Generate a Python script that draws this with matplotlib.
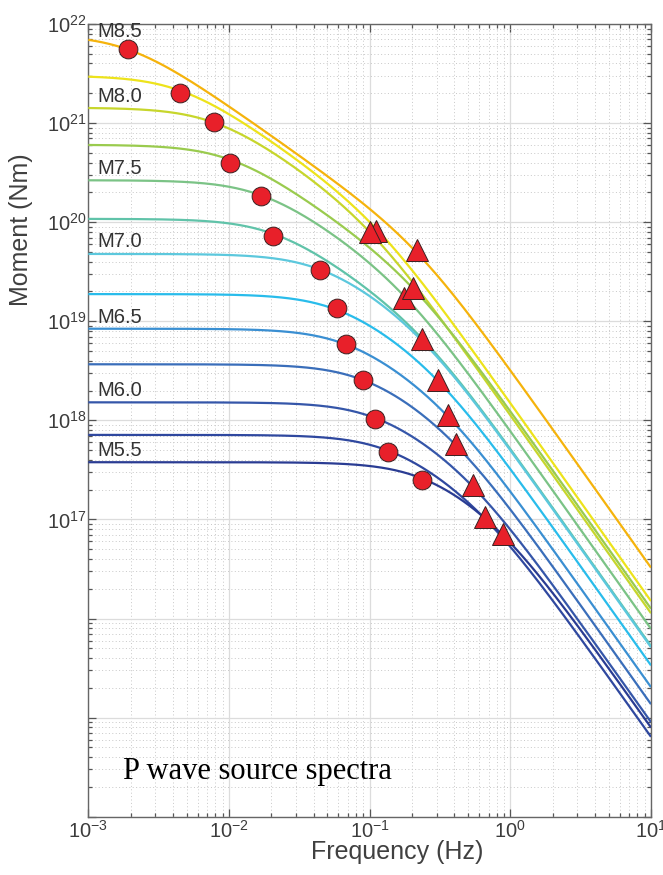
import numpy as np
import matplotlib
matplotlib.use("Agg")
import matplotlib.pyplot as plt
from matplotlib.ticker import LogLocator, FuncFormatter, NullFormatter

# ---------------- data ----------------
mag_labels = ["M8.5", "M8.0", "M7.5", "M7.0", "M6.5", "M6.0", "M5.5"]
label_moment = [7.45e21, 1.64e21, 3.06e20, 5.66e19, 9.7e18, 1.77e18, 4.4e17]

# low-frequency plateau of each spectrum (Nm), first and second corner frequency (Hz)
plateau_moment = [7.80e21, 3.01e21, 1.43e21, 6.04e20, 2.65e20, 1.08e20, 4.78e19,
                  1.88e19, 8.41e18, 3.68e18, 1.52e18, 7.13e17, 3.78e17]
corner_f1 = [0.00192, 0.00449, 0.00787, 0.0102, 0.0169, 0.0207, 0.0444,
             0.0582, 0.0675, 0.0902, 0.110, 0.1355, 0.237]
corner_f2 = [0.218, 0.111, 0.1005, 0.204, 0.176, 0.236, 0.242,
             0.308, 0.358, 0.412, 0.540, 0.664, 0.891]

# red circles
circle_f = [0.00192, 0.00449, 0.00787, 0.0102, 0.01686, 0.0207, 0.0444,
            0.0582, 0.0675, 0.0902, 0.110, 0.1355, 0.2366]
circle_m = [5.56e21, 2.0e21, 1.03e21, 3.93e20, 1.84e20, 7.21e19, 3.30e19,
            1.35e19, 5.90e18, 2.54e18, 1.04e18, 4.83e17, 2.51e17]

# red triangles
tri_f = [0.111, 0.1005, 0.218, 0.176, 0.204, 0.236, 0.308, 0.358, 0.412, 0.540, 0.664, 0.891]
tri_m = [8.15e19, 7.96e19, 5.24e19, 1.71e19, 2.15e19, 6.58e18, 2.53e18, 1.14e18,
         5.75e17, 2.24e17, 1.05e17, 7.14e16]

curve_colors = ["#F5B30C", "#EDE31B", "#C7D62C", "#9ACB4E", "#7BC386", "#60C3A9",
                "#5CC8DD", "#29BCEB", "#3A8FD2", "#3A6EBA", "#3556A9", "#2F489F", "#2A3C93"]

x_ticks = [1e-3, 1e-2, 1e-1, 1e0, 1e1]
y_ticks = [1e14, 1e15, 1e16, 1e17, 1e18, 1e19, 1e20, 1e21, 1e22]
y_labeled_min = 1e17

# ---------------- figure ----------------
plt.rcParams["font.family"] = ["Liberation Sans", "DejaVu Sans"]
plt.rcParams["mathtext.fontset"] = "custom"
plt.rcParams["mathtext.rm"] = "Liberation Sans"
plt.rcParams["mathtext.it"] = "Liberation Sans:italic"
plt.rcParams["mathtext.bf"] = "Liberation Sans:bold"

fig = plt.figure(figsize=(6.63, 8.75), dpi=100)
ax = fig.add_axes([0.1332, 0.0666, 0.8487, 0.9060])
ax.set_xscale("log")
ax.set_yscale("log")
ax.set_xlim(1e-3, 1e1)
ax.set_ylim(1e14, 1e22)

freq = np.logspace(-3, 1, 500)
for m0, fa, fb, col in zip(plateau_moment, corner_f1, corner_f2, curve_colors):
    spec = m0 / np.sqrt((1 + (freq / fa) ** 2) * (1 + (freq / fb) ** 2))
    ax.plot(freq, spec, color=col, lw=1.6, zorder=3, solid_capstyle="butt")

ax.plot(circle_f, circle_m, linestyle="none", marker="o", markersize=13.5,
        markerfacecolor="#E8202A", markeredgecolor="#3a2020", markeredgewidth=0.7, zorder=5)
ax.plot(tri_f, tri_m, linestyle="none", marker="^", markersize=15.5,
        markerfacecolor="#E8202A", markeredgecolor="#3a2020", markeredgewidth=0.7, zorder=6)

for lab, ym in zip(mag_labels, label_moment):
    ax.text(1.16e-3, ym, lab, fontsize=14.5, color="#333333", ha="left", va="baseline", zorder=4)

ax.text(0.0617, 0.0476, "P wave source spectra", transform=ax.transAxes,
        fontsize=22, family=["Liberation Serif", "DejaVu Serif"], color="black",
        ha="left", va="baseline", zorder=7)

# ticks & grid
ax.xaxis.set_major_locator(plt.FixedLocator(x_ticks))
ax.yaxis.set_major_locator(plt.FixedLocator(y_ticks))
ax.xaxis.set_minor_locator(LogLocator(base=10, subs=np.arange(2, 10), numticks=20))
ax.yaxis.set_minor_locator(LogLocator(base=10, subs=np.arange(2, 10), numticks=20))
ax.xaxis.set_minor_formatter(NullFormatter())
ax.yaxis.set_minor_formatter(NullFormatter())

def fmt_exp(v, pos):
    e = int(round(np.log10(v)))
    return r"$10^{%d}$" % e

def fmt_y(v, pos):
    if v < y_labeled_min * 0.999:
        return ""
    return fmt_exp(v, pos)

ax.xaxis.set_major_formatter(FuncFormatter(fmt_exp))
ax.yaxis.set_major_formatter(FuncFormatter(fmt_y))

ax.tick_params(which="both", direction="in", top=True, right=True, colors="#555555",
               labelcolor="#3c3c3c", width=0.9)
ax.tick_params(which="major", length=6, labelsize=14.5)
ax.tick_params(which="minor", length=3.2)
ax.tick_params(axis="y", which="major", pad=1.5)
ax.tick_params(axis="x", which="major", pad=2.5)

ax.grid(True, which="major", color="#dcdcdc", lw=0.9, ls="-", zorder=0)
ax.grid(True, which="minor", color="#c8c8c8", lw=0.7, ls=(0, (1, 2.5)), zorder=0)
ax.set_axisbelow(True)

for sp in ax.spines.values():
    sp.set_color("#666666")
    sp.set_linewidth(1.0)

ax.set_xlabel("Frequency (Hz)", fontsize=18, color="#404040")
ax.set_ylabel("Moment (Nm)", fontsize=18, color="#404040")
ax.xaxis.label.set_verticalalignment("baseline")
ax.xaxis.set_label_coords(0.549, -0.0534)
ax.yaxis.set_label_coords(-0.098, 0.74)

fig.savefig("out.png", dpi=100)
